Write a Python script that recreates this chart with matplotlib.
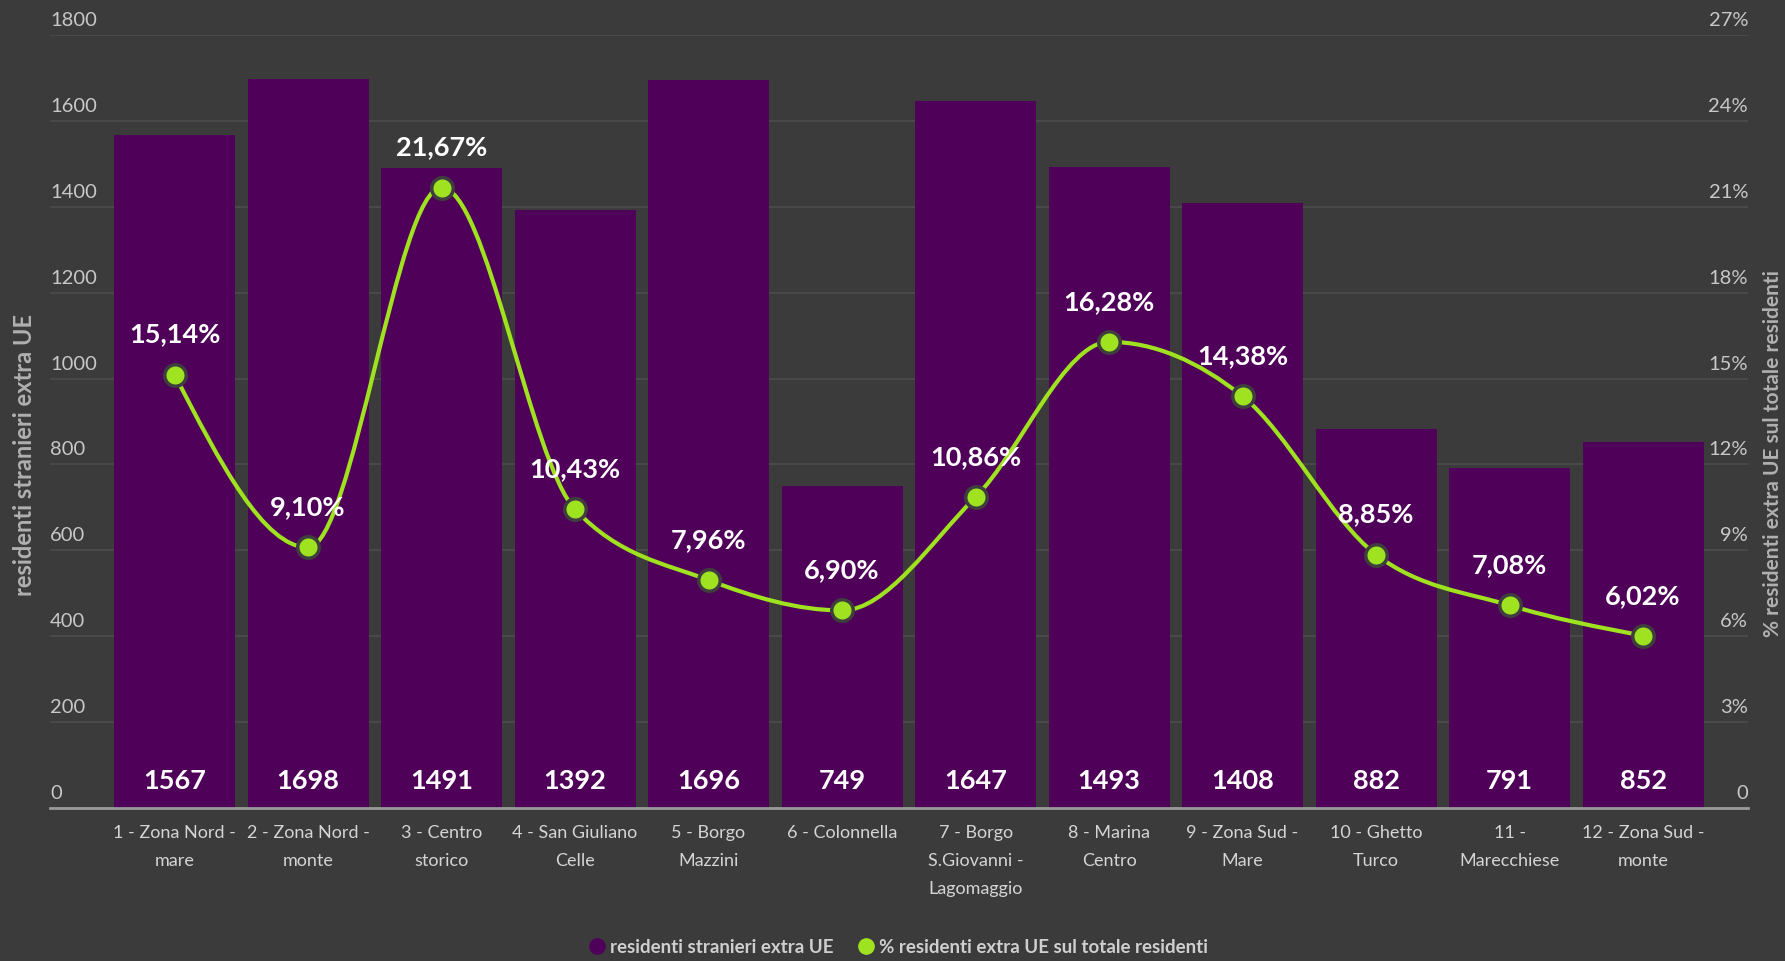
import matplotlib.pyplot as plt
import matplotlib.transforms as mtransforms
from matplotlib.path import Path
from matplotlib.patches import PathPatch
from matplotlib.lines import Line2D

# dati
zone = ['1 - Zona Nord -\nmare', '2 - Zona Nord -\nmonte', '3 - Centro\nstorico',
        '4 - San Giuliano\nCelle', '5 - Borgo\nMazzini', '6 - Colonnella',
        '7 - Borgo\nS.Giovanni -\nLagomaggio', '8 - Marina\nCentro', '9 - Zona Sud -\nMare',
        '10 - Ghetto\nTurco', '11 -\nMarecchiese', '12 - Zona Sud -\nmonte']
residenti = [1567, 1698, 1491, 1392, 1696, 749, 1647, 1493, 1408, 882, 791, 852]
percentuali = [15.14, 9.10, 21.67, 10.43, 7.96, 6.90, 10.86, 16.28, 14.38, 8.85, 7.08, 6.02]
tick_sx = list(range(0, 1801, 200))
tick_dx = list(range(0, 28, 3))

BG = '#3b3b3b'
VIOLA = '#4f0058'
VERDE = '#9fe21f'
plt.rcParams['font.family'] = ['Lato', 'DejaVu Sans']


def sgn(v):
    return (v > 0) - (v < 0)


def monotone(xs, ys):
    # curva monotona (tipo d3 curveMonotoneX)
    n = len(xs)
    t = [0.0] * n
    for i in range(1, n - 1):
        h0 = xs[i] - xs[i - 1]
        h1 = xs[i + 1] - xs[i]
        s0 = (ys[i] - ys[i - 1]) / h0
        s1 = (ys[i + 1] - ys[i]) / h1
        p = (s0 * h1 + s1 * h0) / (h0 + h1)
        t[i] = (sgn(s0) + sgn(s1)) * min(abs(s0), abs(s1), 0.5 * abs(p))
    h = xs[1] - xs[0]
    t[0] = (3 * (ys[1] - ys[0]) / h - t[1]) / 2
    h = xs[-1] - xs[-2]
    t[-1] = (3 * (ys[-1] - ys[-2]) / h - t[-2]) / 2
    verts = [(xs[0], ys[0])]
    codes = [Path.MOVETO]
    for i in range(1, n):
        dx = (xs[i] - xs[i - 1]) / 3
        verts += [(xs[i - 1] + dx, ys[i - 1] + dx * t[i - 1]),
                  (xs[i] - dx, ys[i] - dx * t[i]), (xs[i], ys[i])]
        codes += [Path.CURVE4] * 3
    return Path(verts, codes)


fig = plt.figure(figsize=(17.85, 9.61), dpi=100, facecolor=BG)
ax = fig.add_axes([50 / 1785, 1 - 808 / 961, 1698 / 1785, 773 / 961])
ax.set_facecolor(BG)
x = list(range(len(zone)))

ax.bar(x, residenti, width=0.906, color=VIOLA, zorder=2)
ax.set_xlim(-0.933, 11.786)
ax.set_ylim(0, 1800)
ax.set_yticks(tick_sx)
ax.set_yticklabels([])
ax.grid(axis='y', color='#4c4c4c', lw=1.2)
ax.set_axisbelow(True)
ax.tick_params(axis='y', length=0)
ax.tick_params(axis='x', length=0, pad=12, labelsize=13, labelcolor='#d4d4d4')
ax.set_xticks(x)
ax.set_xticklabels(zone)
for lab in ax.get_xticklabels():
    lab.set_linespacing(1.95)
for s in ['top', 'left', 'right']:
    ax.spines[s].set_visible(False)
ax.spines['bottom'].set_color('#9a9a9a')
ax.spines['bottom'].set_linewidth(2)
ax.spines['bottom'].set_zorder(3)

up = lambda px: mtransforms.ScaledTranslation(0, px / 100, fig.dpi_scale_trans)
tl = mtransforms.blended_transform_factory(ax.transAxes, ax.transData)
for v in tick_sx:
    ax.text(0, v, str(v), transform=tl + up(6), ha='left', va='bottom',
            fontsize=14.5, color='#c8c8c8')

for i, v in enumerate(residenti):
    ax.text(i, 0, str(v), transform=ax.transData + up(27), ha='center', va='center',
            fontsize=19.5, fontweight='bold', color='white', zorder=4)

ax2 = ax.twinx()
ax2.set_ylim(0, 27)
ax2.set_xlim(ax.get_xlim())
ax2.axis('off')
tr = mtransforms.blended_transform_factory(ax2.transAxes, ax2.transData)
for p in tick_dx:
    ax2.text(1, p, '0' if p == 0 else f'{p}%', transform=tr + up(6), ha='right', va='bottom',
             fontsize=14.5, color='#c8c8c8')

ax2.add_patch(PathPatch(monotone(x, percentuali), fill=False, edgecolor=VERDE, lw=3, zorder=3))
ax2.plot(x, percentuali, 'o', ms=15.5, mfc=VERDE, mec='#3e3e3e', mew=2.5, zorder=4)
for i, p in enumerate(percentuali):
    ax2.text(i, p, f'{p:.2f}%'.replace('.', ','), transform=ax2.transData + up(40),
             ha='center', va='center', fontsize=19.5, fontweight='bold', color='white', zorder=5)

fig.text(25 / 1785, 1 - 455 / 961, 'residenti stranieri extra UE', rotation=90, ha='center',
         va='center', fontsize=17, fontweight='bold', color='#b0b0b0')
fig.text(1773 / 1785, 1 - 454 / 961, '% residenti extra UE sul totale residenti', rotation=90,
         ha='center', va='center', fontsize=15, fontweight='bold', color='#b0b0b0')

handles = [Line2D([], [], ls='', marker='o', ms=11, mfc=VIOLA, mec=VIOLA),
           Line2D([], [], ls='', marker='o', ms=11, mfc=VERDE, mec=VERDE)]
leg = fig.legend(handles, ['residenti stranieri extra UE', '% residenti extra UE sul totale residenti'],
                 loc='center', bbox_to_anchor=(0.503, 0.014), ncol=2, frameon=False,
                 handletextpad=0.2, columnspacing=1.2, handlelength=1.0,
                 prop={'size': 13.5, 'weight': 'bold'})
for t in leg.get_texts():
    t.set_color('#cfcfcf')

fig.savefig('out.png', dpi=100, facecolor=BG)
